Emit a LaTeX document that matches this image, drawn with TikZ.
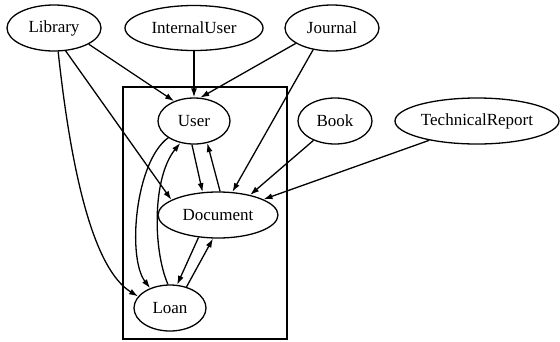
\documentclass[tikz,border=0pt]{standalone}
\usepackage{fontspec}
\setmainfont{Liberation Serif}
\usetikzlibrary{arrows.meta,shapes.geometric}
\begin{document}
\begin{tikzpicture}[x=1pt,y=-1pt,
  ent/.style={draw,ellipse,line width=1.3pt,inner sep=0pt,font=\fontsize{17}{20}\selectfont},
  edge/.style={line width=1.3pt,-{Latex[length=9pt,width=6pt]}}]
\useasboundingbox (0,0) rectangle (560,341);
\draw[line width=1.3pt] (123,87) rectangle (287,339);
\node[ent,minimum width=94pt,minimum height=46pt] (Library) at (54,28) {Library};
\node[ent,minimum width=138pt,minimum height=45pt] (InternalUser) at (194,28) {InternalUser};
\node[ent,minimum width=94pt,minimum height=46pt] (Journal) at (332,28) {Journal};
\node[ent,minimum width=72pt,minimum height=46pt] (User) at (194,121) {User};
\node[ent,minimum width=74pt,minimum height=46pt] (Book) at (335,121) {Book};
\node[ent,minimum width=164pt,minimum height=46pt] (TechnicalReport) at (477,121) {TechnicalReport};
\node[ent,minimum width=120pt,minimum height=46pt] (Document) at (218,215) {Document};
\node[ent,minimum width=72pt,minimum height=46pt] (Loan) at (170,308) {Loan};
% top-level edges
\draw[edge] (Library.-25) -- (User.135);
\draw[edge] (InternalUser.-90) -- (User.90);
\draw[edge] (Journal.-157) -- (User.75);
\draw[edge] (Journal.-131) -- (Document.58);
\draw[edge] (Library.-63) -- (Document.162);
\draw[edge] (Library.-80) .. controls (72,180) and (95,270) .. (Loan.160);
\draw[edge] (Book.-138) -- (Document.32);
\draw[edge] (TechnicalReport.-158) -- (Document.19);
% inside
\draw[edge] (User.-147) .. controls (135,162) and (127,258) .. (Loan.135);
\draw[edge] (Loan.95) .. controls (153,250) and (152,178) .. (User.-122);
\draw[edge] (User.-95) -- (Document.124);
\draw[edge] (Document.85) -- (User.-59);
\draw[edge] (Document.-131) -- (Loan.73);
\draw[edge] (Loan.52) -- (Document.-102);
\end{tikzpicture}
\end{document}
